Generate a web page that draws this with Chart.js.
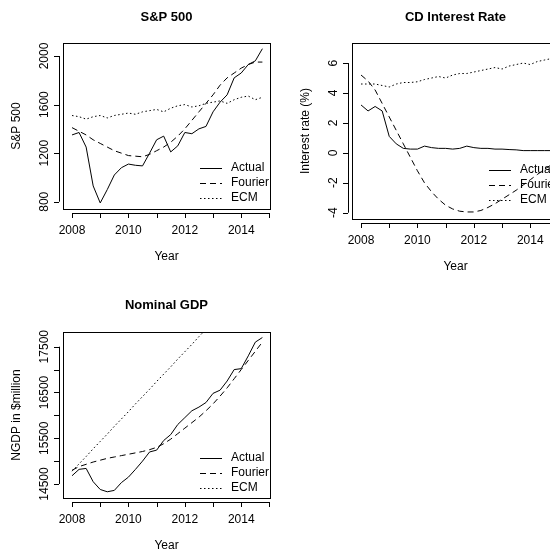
<!DOCTYPE html>
<html><head><meta charset="utf-8">
<script src="https://cdn.jsdelivr.net/npm/chart.js@4"></script>
<style>
body{margin:0;width:550px;height:552px;overflow:hidden;background:#fff;position:relative}
canvas{position:absolute}
</style></head><body>
<canvas id="c1" style="left:0;top:0;width:275px;height:276px"></canvas>
<canvas id="c2" style="left:275px;top:0;width:290px;height:276px"></canvas>
<canvas id="c3" style="left:0;top:276px;width:275px;height:276px"></canvas>
<script>
const quarters = [2008,2008.25,2008.5,2008.75,2009,2009.25,2009.5,2009.75,2010,2010.25,2010.5,2010.75,2011,2011.25,2011.5,2011.75,2012,2012.25,2012.5,2012.75,2013,2013.25,2013.5,2013.75,2014,2014.25,2014.5,2014.75];
const yearTicks = [2008,2010,2012,2014];
const seriesNames = ["Actual","Fourier","ECM"];

const spActual = [1350,1370,1250,930,790,900,1020,1080,1110,1100,1095,1200,1310,1340,1210,1260,1370,1360,1400,1420,1540,1620,1680,1820,1860,1930,1960,2060];
const spFourier = [1410,1380,1350,1310,1280,1250,1220,1200,1180,1175,1170,1190,1220,1250,1290,1340,1400,1470,1540,1610,1680,1760,1820,1860,1900,1930,1950,1950];
const spECM = [1510,1500,1480,1500,1510,1490,1510,1520,1530,1520,1540,1550,1560,1540,1570,1590,1600,1580,1590,1610,1620,1630,1610,1640,1660,1670,1640,1660];
const spTicks = [800,1200,1600,2000];
const spTickLabels = ["800","1200","1600","2000"];

const cdActual = [3.2,2.8,3.1,2.8,1.1,0.6,0.3,0.25,0.25,0.45,0.35,0.3,0.3,0.25,0.3,0.45,0.35,0.3,0.3,0.25,0.25,0.22,0.2,0.15,0.15,0.15,0.15,0.15];
const cdFourier = [5.2,4.8,4.2,3.3,2.4,1.5,0.6,-0.3,-1.2,-2.0,-2.6,-3.1,-3.5,-3.75,-3.9,-3.95,-3.95,-3.85,-3.65,-3.4,-3.1,-2.8,-2.5,-2.15,-1.8,-1.45,-1.1,-0.8];
const cdECM = [4.6,4.6,4.6,4.5,4.4,4.6,4.7,4.7,4.75,4.9,5.0,5.1,5.0,5.2,5.3,5.3,5.4,5.5,5.6,5.7,5.6,5.8,5.9,6.0,5.9,6.1,6.2,6.3];
const cdTicks = [-4,-2,0,2,4,6];
const cdTickLabels = ["-4","-2","0","2","4","6"];

const gdpActual = [14680,14820,14840,14550,14380,14330,14360,14530,14650,14820,15000,15200,15240,15450,15580,15800,15950,16100,16180,16280,16480,16550,16750,17000,17020,17300,17600,17700];
const gdpFourier = [14800,14880,14930,14980,15020,15060,15090,15120,15150,15180,15210,15250,15300,15380,15480,15600,15720,15840,15960,16100,16250,16420,16600,16800,17000,17200,17400,17600];
const gdpECM = [14780,14940,15100,15270,15430,15590,15760,15920,16080,16250,16410,16570,16740,16900,17060,17230,17390,17550,17720,17880,18040,18200,18370,18530,18690,18860,19020,19180];
const gdpTicks = [14500,15000,15500,16000,16500,17000,17500];
const gdpTickLabels = ["14500","","15500","","16500","","17500"];

const FONT = '"Liberation Sans", Arial, sans-serif';

function mk(id, cfg){
  const dashes = [[], [6,4], [1.5,2.5]];
  const datasets = cfg.series.map((s,i)=>({
    label: seriesNames[i],
    data: quarters.map((q,j)=>({x:q,y:s[j]})),
    borderColor:'#000', borderWidth:1, borderDash:dashes[i],
    pointRadius:0, tension:0, fill:false
  }));
  const rAxis = {
    id:'rAxis',
    afterDraw(chart){
      const ctx=chart.ctx, a=chart.chartArea, xs=chart.scales.x, ys=chart.scales.y;
      ctx.save();
      ctx.strokeStyle='#000'; ctx.lineWidth=1; ctx.fillStyle='#000';
      ctx.strokeRect(a.left+0.5,a.top+0.5,a.right-a.left,a.bottom-a.top);
      // x axis
      const ay=a.bottom+4;
      ctx.beginPath();
      ctx.moveTo(xs.getPixelForValue(yearTicks[0]),ay+0.5);
      ctx.lineTo(xs.getPixelForValue(2015),ay+0.5);
      for(let t=2008;t<=2015;t++){const px=Math.round(xs.getPixelForValue(t))+0.5;ctx.moveTo(px,ay);ctx.lineTo(px,ay+5);}
      ctx.stroke();
      ctx.font='12px '+FONT; ctx.textAlign='center'; ctx.textBaseline='middle';
      yearTicks.forEach(t=>ctx.fillText(String(t),xs.getPixelForValue(t),a.bottom+22));
      ctx.fillText('Year',(a.left+a.right)/2,a.bottom+48);
      // y axis
      const ax=a.left-4;
      ctx.beginPath();
      ctx.moveTo(ax+0.5,ys.getPixelForValue(cfg.yTicks[0]));
      ctx.lineTo(ax+0.5,ys.getPixelForValue(cfg.yTicks[cfg.yTicks.length-1]));
      cfg.yTicks.forEach(t=>{const py=Math.round(ys.getPixelForValue(t))+0.5;ctx.moveTo(ax,py);ctx.lineTo(ax-5,py);});
      ctx.stroke();
      cfg.yTicks.forEach((t,i)=>{
        if(!cfg.yLabels[i])return;
        ctx.save();ctx.translate(a.left-18,ys.getPixelForValue(t));ctx.rotate(-Math.PI/2);
        ctx.fillText(cfg.yLabels[i],0,0);ctx.restore();
      });
      ctx.save();ctx.translate(a.left-46,(a.top+a.bottom)/2);ctx.rotate(-Math.PI/2);
      ctx.fillText(cfg.yTitle,0,0);ctx.restore();
      // title
      ctx.font='bold 13px '+FONT;
      ctx.fillText(cfg.title,(a.left+a.right)/2,17+cfg.titleOff);
      // legend
      ctx.font='12px '+FONT; ctx.textAlign='left';
      seriesNames.forEach((n,i)=>{
        const y=cfg.leg.y+i*15;
        ctx.beginPath();ctx.setLineDash(dashes[i]);
        ctx.moveTo(cfg.leg.x,y+0.5);ctx.lineTo(cfg.leg.x+22,y+0.5);ctx.stroke();
        ctx.setLineDash([]);
        ctx.fillText(n,cfg.leg.x+31,y);
      });
      ctx.restore();
    }
  };
  new Chart(document.getElementById(id),{
    type:'line',
    data:{datasets},
    options:{
      responsive:false, animation:false,
      layout:{padding:cfg.pad},
      plugins:{legend:{display:false},tooltip:{enabled:false}},
      scales:{
        x:{type:'linear',min:2007.68,max:2015.02,display:false},
        y:{type:'linear',min:cfg.ymin,max:cfg.ymax,display:false}
      }
    },
    plugins:[rAxis]
  });
}
function setSize(id,w,h){const c=document.getElementById(id);c.width=w;c.height=h;}
setSize('c1',275,276);setSize('c2',290,276);setSize('c3',275,276);

mk('c1',{series:[spActual,spFourier,spECM],ymin:740,ymax:2107,yTicks:spTicks,yLabels:spTickLabels,
  yTitle:'S&P 500',title:'S&P 500',titleOff:0,pad:{left:63,right:5,top:43,bottom:67},leg:{x:200,y:168}});
mk('c2',{series:[cdActual,cdFourier,cdECM],ymin:-4.42,ymax:7.34,yTicks:cdTicks,yLabels:cdTickLabels,
  yTitle:'Interest rate (%)',title:'CD Interest Rate',titleOff:0,pad:{left:77,right:6,top:43,bottom:57},leg:{x:214,y:170}});
mk('c3',{series:[gdpActual,gdpFourier,gdpECM],ymin:14194,ymax:17821,yTicks:gdpTicks,yLabels:gdpTickLabels,
  yTitle:'NGDP in $million',title:'Nominal GDP',titleOff:12,pad:{left:63,right:5,top:56,bottom:54},leg:{x:200,y:182}});
</script>
</body></html>
